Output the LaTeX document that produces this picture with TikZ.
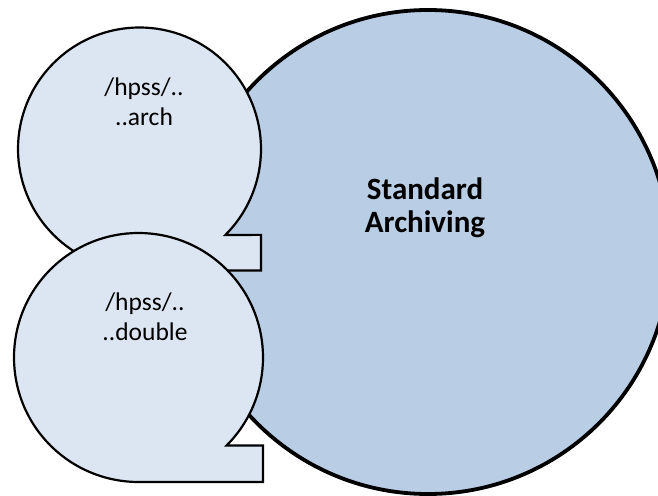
\documentclass[tikz,border=0pt]{standalone}
\usepackage{fontspec}
\setmainfont{Carlito}
\usepackage{tikz}
\usetikzlibrary{calc}

\definecolor{bigfill}{HTML}{B9CDE5}
\definecolor{bubblefill}{HTML}{DCE6F2}

\begin{document}
\begin{tikzpicture}[x=1pt, y=1pt]
      \tikzset{bigcircle/.style = {draw=black, line width=3.8pt, fill=bigfill}}
      \tikzset{bubble/.style = {draw=black, line width=2.2pt, fill=bubblefill, line join=miter}}
      \tikzset{bubbletext/.style = {align=center, font=\fontsize{25.5}{30}\selectfont}}
      \tikzset{bigtext/.style = {align=center, font=\fontsize{31}{33}\selectfont\bfseries}}
      \useasboundingbox (0,0) rectangle (658,495);
      \clip (0,0) rectangle (658,495);

      \coordinate (big) at (428,243);
      \coordinate (arch) at (139.5,346);
      \coordinate (dbl) at (138.5,137.5);

      % main circle
      \draw[bigcircle] (big) circle (242);

      % the two callouts
      \draw[bubble] ($(arch)+(-45:121.5)$) arc[start angle=-45, end angle=270, radius=121.5]
            -- ++(121.5,0) -- ++(0,35.6) -- cycle;
      \draw[bubble] ($(dbl)+(-45:124.5)$) arc[start angle=-45, end angle=270, radius=124.5]
            -- ++(124.5,0) -- ++(0,36.5) -- cycle;

      \node[bubbletext] (archtext) at (144,393) {/hpss/..\\..arch};
      \node[bubbletext] (dbltext) at (145,178) {/hpss/..\\..double};
      \node[bigtext] (stdtext) at (425,287) {Standard\\Archiving};
    \end{tikzpicture}
\end{document}
